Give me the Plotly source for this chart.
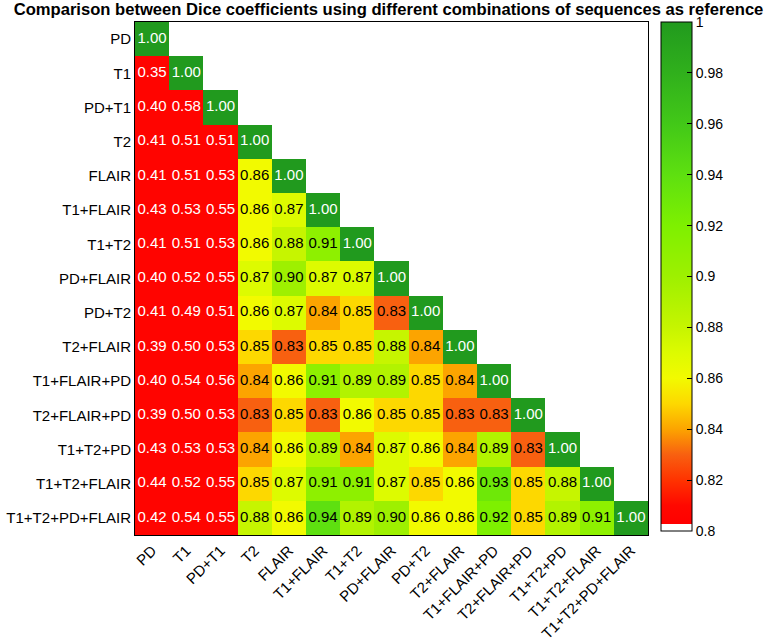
import numpy as np
import plotly.graph_objects as go

sequences = ["PD", "T1", "PD+T1", "T2", "FLAIR", "T1+FLAIR", "T1+T2", "PD+FLAIR",
             "PD+T2", "T2+FLAIR", "T1+FLAIR+PD", "T2+FLAIR+PD", "T1+T2+PD",
             "T1+T2+FLAIR", "T1+T2+PD+FLAIR"]

row_PD = [1.00]
row_T1 = [0.35, 1.00]
row_PD_T1 = [0.40, 0.58, 1.00]
row_T2 = [0.41, 0.51, 0.51, 1.00]
row_FLAIR = [0.41, 0.51, 0.53, 0.86, 1.00]
row_T1_FLAIR = [0.43, 0.53, 0.55, 0.86, 0.87, 1.00]
row_T1_T2 = [0.41, 0.51, 0.53, 0.86, 0.88, 0.91, 1.00]
row_PD_FLAIR = [0.40, 0.52, 0.55, 0.87, 0.90, 0.87, 0.87, 1.00]
row_PD_T2 = [0.41, 0.49, 0.51, 0.86, 0.87, 0.84, 0.85, 0.83, 1.00]
row_T2_FLAIR = [0.39, 0.50, 0.53, 0.85, 0.83, 0.85, 0.85, 0.88, 0.84, 1.00]
row_T1_FLAIR_PD = [0.40, 0.54, 0.56, 0.84, 0.86, 0.91, 0.89, 0.89, 0.85, 0.84, 1.00]
row_T2_FLAIR_PD = [0.39, 0.50, 0.53, 0.83, 0.85, 0.83, 0.86, 0.85, 0.85, 0.83, 0.83, 1.00]
row_T1_T2_PD = [0.43, 0.53, 0.53, 0.84, 0.86, 0.89, 0.84, 0.87, 0.86, 0.84, 0.89, 0.83, 1.00]
row_T1_T2_FLAIR = [0.44, 0.52, 0.55, 0.85, 0.87, 0.91, 0.91, 0.87, 0.85, 0.86, 0.93, 0.85, 0.88, 1.00]
row_ALL = [0.42, 0.54, 0.55, 0.88, 0.86, 0.94, 0.89, 0.90, 0.86, 0.86, 0.92, 0.85, 0.89, 0.91, 1.00]

rows = [row_PD, row_T1, row_PD_T1, row_T2, row_FLAIR, row_T1_FLAIR, row_T1_T2,
        row_PD_FLAIR, row_PD_T2, row_T2_FLAIR, row_T1_FLAIR_PD, row_T2_FLAIR_PD,
        row_T1_T2_PD, row_T1_T2_FLAIR, row_ALL]

colorbar_ticks = [0.8, 0.82, 0.84, 0.86, 0.88, 0.9, 0.92, 0.94, 0.96, 0.98, 1]
colorbar_ticktext = ["0.8", "0.82", "0.84", "0.86", "0.88", "0.9", "0.92", "0.94", "0.96", "0.98", "1"]

n = len(sequences)
z = np.full((n, n), np.nan)
for i, r in enumerate(rows):
    z[i, :len(r)] = r
zc = np.where(np.isnan(z), np.nan, np.clip(z, 0.806, 1.0))

colorscale = [
    [0.0, "#ffffff"], [0.013, "#ffffff"], [0.0135, "#ff0000"],
    [0.05, "#ff0800"], [0.10, "#ff3300"], [0.15, "#f86010"],
    [0.20, "#fca400"], [0.25, "#fdd800"], [0.30, "#f2fa00"],
    [0.35, "#ddfb00"], [0.40, "#c6f500"], [0.50, "#9ef000"],
    [0.60, "#7ef000"], [0.70, "#5ee010"], [0.80, "#42c818"],
    [0.90, "#30b01c"], [1.0, "#219a1e"],
]

fig = go.Figure()
fig.add_trace(go.Heatmap(
    z=zc, x=sequences, y=sequences, zmin=0.8, zmax=1.0,
    colorscale=colorscale, hoverongaps=False, xgap=0, ygap=0,
    colorbar=dict(
        x=1.0253, xanchor="left", xpad=0, y=1, yanchor="top", ypad=0,
        len=509, lenmode="pixels", thickness=31, outlinewidth=1, outlinecolor="black",
        tickvals=colorbar_ticks, ticktext=colorbar_ticktext, ticks="inside",
        ticklen=5, tickcolor="black", tickfont=dict(size=14, color="black"),
    ),
))

tx, ty, tt, tc = [], [], [], []
for i, r in enumerate(rows):
    for j, v in enumerate(r):
        tx.append(sequences[j]); ty.append(sequences[i]); tt.append(f"{v:.2f}")
        tc.append("white" if (v < 0.8 or v >= 0.995) else "black")
fig.add_trace(go.Scatter(x=tx, y=ty, text=tt, mode="text",
                         textfont=dict(size=15, color=tc, family="Liberation Sans, Arial"),
                         hoverinfo="skip", showlegend=False))

fig.update_layout(
    width=777, height=643,
    margin=dict(l=135, r=129, t=22, b=108, autoexpand=False),
    paper_bgcolor="white", plot_bgcolor="white",
    font=dict(family="Liberation Sans, Arial, sans-serif", color="black"),
    title=dict(text="<b>Comparison between Dice coefficients using different combinations of sequences as reference</b>",
               x=0.5, xanchor="center", y=0.985, yanchor="middle", font=dict(size=16.6)),
    xaxis=dict(type="category", categoryorder="array", categoryarray=sequences, automargin=False,
               tickangle=-45, tickfont=dict(size=15), showgrid=False, zeroline=False,
               showline=True, linecolor="black", linewidth=1, mirror=True, ticks="",
               range=[-0.5, n - 0.5]),
    yaxis=dict(type="category", categoryorder="array", categoryarray=sequences, automargin=False,
               tickfont=dict(size=15), showgrid=False, zeroline=False,
               showline=True, linecolor="black", linewidth=1, mirror=True, ticks="",
               range=[n - 0.5, -0.5]),
)

fig.write_html("out.html", config={"displayModeBar": False},
               post_script="document.body.style.margin='0px';")
